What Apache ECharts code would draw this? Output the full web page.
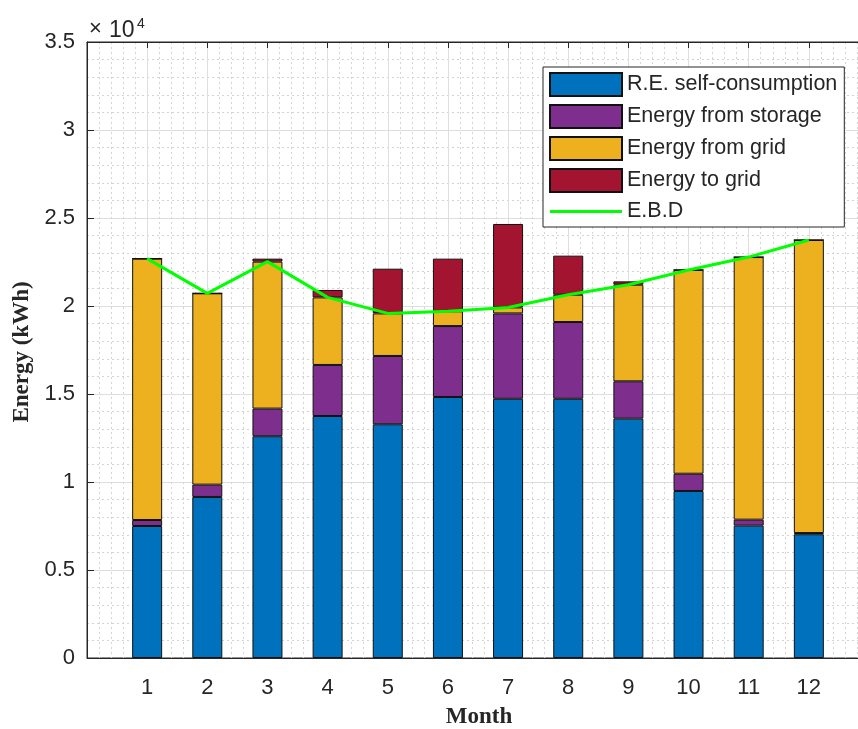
<!DOCTYPE html>
<html>
<head>
<meta charset="utf-8">
<script src="https://cdn.jsdelivr.net/npm/echarts@6/dist/echarts.min.js"></script>
<style>
html,body{margin:0;padding:0;background:#fff;overflow:hidden;}
#chart{width:880px;height:729px;}
</style>
</head>
<body>
<div id="chart"></div>
<script>
// Data (kWh) per month
var months = [1, 2, 3, 4, 5, 6, 7, 8, 9, 10, 11, 12];
var selfConsumption = [7500, 9150, 12600, 13750, 13280, 14830, 14730, 14730, 13600, 9490, 7520, 7030];
var fromStorage = [340, 700, 1570, 2900, 3880, 4030, 4850, 4360, 2120, 980, 340, 70];
var fromGrid = [14850, 10870, 8350, 3840, 2420, 840, 340, 1550, 5490, 11580, 14920, 16650];
var toGrid = [0, 0, 170, 420, 2540, 2990, 4740, 2220, 190, 0, 0, 0];
var ebd = [22690, 20720, 22520, 20490, 19580, 19700, 19920, 20640, 21210, 22050, 22780, 23750];
var yTicks = [0, 5000, 10000, 15000, 20000, 25000, 30000, 35000];
var seriesNames = ['R.E. self-consumption', 'Energy from storage', 'Energy from grid', 'Energy to grid', 'E.B.D'];

// x axis runs from 0 to 13 (MATLAB style limits), months sit on 1..12
var categories = ['0'].concat(months.map(String)).concat(['13']);
function pairs(vals) { return months.map(function (m, i) { return [String(m), vals[i]]; }); }

var axisColor = '#262626';
var tickFont = 'Liberation Sans, Arial, sans-serif';
var serifFont = 'Liberation Serif, Times New Roman, serif';

var chart = echarts.init(document.getElementById('chart'), null, {renderer: 'canvas'});

function barSeries(name, vals, color) {
  return {
    name: name, type: 'bar', stack: 'total', barWidth: 30,
    xAxisIndex: 0,
    data: pairs(vals),
    itemStyle: {color: color, borderColor: '#111', borderWidth: 1},
    emphasis: {disabled: true},
    z: 3
  };
}

var lineIcon = 'path://M0,0 L0.01,0 L0.01,0.01 Z M0,10 L72,10 L72,13 L0,13 Z M0,23 L0.01,23 L0.01,22.99 Z';

var option = {
  animation: false,
  backgroundColor: '#fff',
  grid: {left: 87, top: 42, width: 782, height: 616, show: true, borderColor: axisColor, borderWidth: 1, backgroundColor: 'transparent'},
  xAxis: [{
    type: 'category', data: categories, boundaryGap: false,
    axisLine: {show: true, onZero: false, lineStyle: {color: axisColor, width: 1}},
    axisTick: {show: true, inside: true, length: 6, interval: 0, lineStyle: {color: axisColor}},
    axisLabel: {
      interval: 0, margin: 19, color: axisColor, fontSize: 22, fontFamily: tickFont,
      formatter: function (v) { return months.indexOf(Number(v)) >= 0 ? v : ''; }
    },
    splitLine: {show: true, interval: 0, lineStyle: {color: '#dedede', width: 1}}
  }, {
    type: 'value', min: 0, max: 13, interval: 1, position: 'top',
    axisLine: {show: true, onZero: false, lineStyle: {color: axisColor, width: 1}},
    axisTick: {show: true, inside: true, length: 6, lineStyle: {color: axisColor}},
    axisLabel: {show: false},
    splitLine: {show: false},
    minorTick: {show: false, splitNumber: 5},
    minorSplitLine: {show: true, lineStyle: {color: '#d4d4d4', width: 1, type: [2, 3]}}
  }],
  yAxis: {
    type: 'value', min: yTicks[0], max: yTicks[yTicks.length - 1], interval: 5000,
    axisLine: {show: true, lineStyle: {color: axisColor, width: 1}},
    axisTick: {show: true, inside: true, length: 7, lineStyle: {color: axisColor}},
    axisLabel: {
      margin: 12, color: axisColor, fontSize: 22, fontFamily: tickFont,
      formatter: function (v) { return String(v / 10000); }
    },
    splitLine: {show: true, lineStyle: {color: '#dedede', width: 1}},
    minorTick: {show: false, splitNumber: 5},
    minorSplitLine: {show: true, lineStyle: {color: '#d4d4d4', width: 1, type: [2, 3]}}
  },
  legend: {
    left: 543, top: 67, orient: 'vertical',
    itemWidth: 72, itemHeight: 23, itemGap: 7, itemTextGap: 7,
    padding: [5, 7, 4, 6],
    backgroundColor: '#fff', borderColor: axisColor, borderWidth: 1,
    textStyle: {fontSize: 21.5, lineHeight: 23, color: axisColor, fontFamily: tickFont},
    data: [
      {name: seriesNames[0], icon: 'rect'},
      {name: seriesNames[1], icon: 'rect'},
      {name: seriesNames[2], icon: 'rect'},
      {name: seriesNames[3], icon: 'rect'},
      {name: seriesNames[4], icon: lineIcon, itemStyle: {color: '#00FF00', borderWidth: 0}}
    ],
    selectedMode: false
  },
  series: [
    barSeries(seriesNames[0], selfConsumption, '#0072BD'),
    barSeries(seriesNames[1], fromStorage, '#7E2F8E'),
    barSeries(seriesNames[2], fromGrid, '#EDB120'),
    barSeries(seriesNames[3], toGrid, '#A2142F'),
    {
      name: seriesNames[4], type: 'line', xAxisIndex: 0, data: pairs(ebd),
      symbol: 'none', showSymbol: false,
      lineStyle: {color: '#00FF00', width: 3},
      itemStyle: {color: '#00FF00'},
      z: 5
    }
  ],
  graphic: [
    {type: 'text', left: 89, top: 18, style: {text: '×', fontSize: 22, fontFamily: tickFont, fill: axisColor}},
    {type: 'text', left: 109, top: 19, style: {text: '10', fontSize: 23, fontFamily: tickFont, fill: axisColor}},
    {type: 'text', left: 137, top: 17, style: {text: '4', fontSize: 14, fontFamily: tickFont, fill: axisColor}},
    {type: 'text', x: 22, y: 352, rotation: Math.PI / 2,
      style: {text: 'Energy (kWh)', fontSize: 23, fontWeight: 'bold', fontFamily: serifFont, fill: axisColor, align: 'center', verticalAlign: 'middle'}},
    {type: 'text', x: 479, y: 717,
      style: {text: 'Month', fontSize: 23, fontWeight: 'bold', fontFamily: serifFont, fill: axisColor, align: 'center', verticalAlign: 'middle'}}
  ]
};
chart.setOption(option);
</script>
</body>
</html>
